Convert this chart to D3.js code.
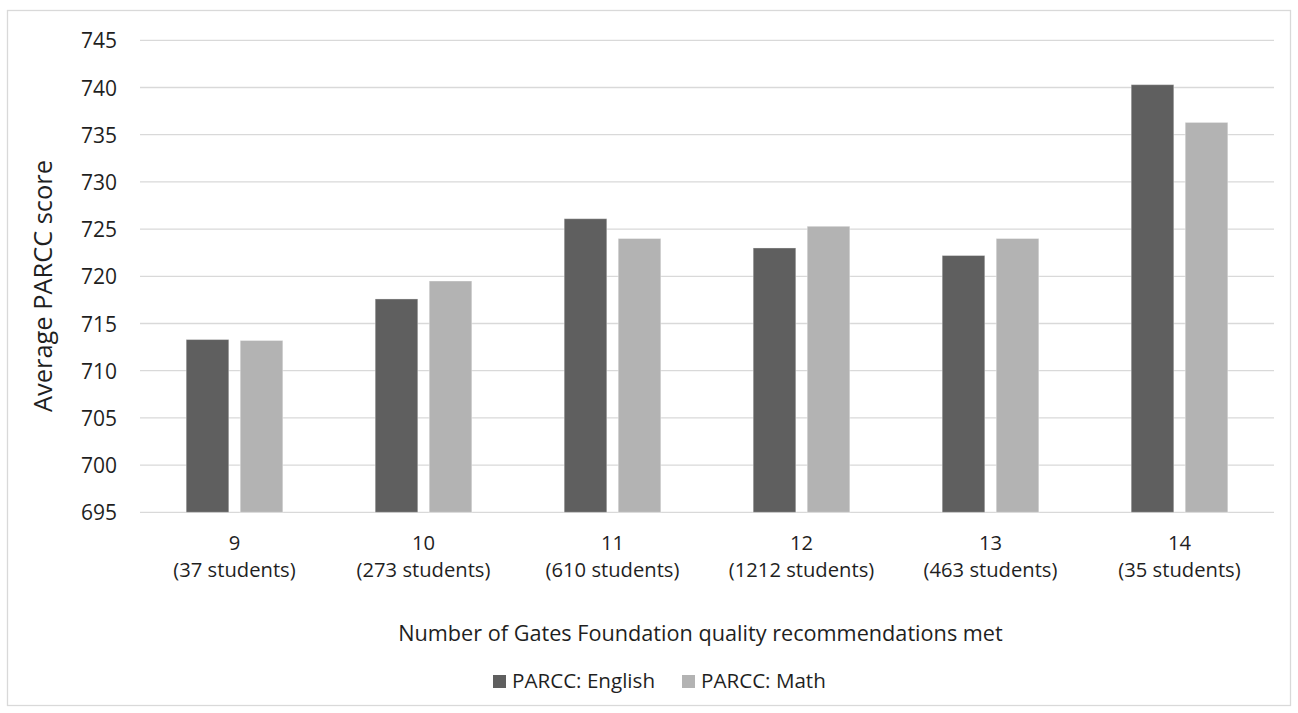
<!DOCTYPE html>
<html>
<head>
<meta charset="utf-8">
<script src="https://cdn.jsdelivr.net/npm/d3@7/dist/d3.min.js"></script>
<style>
  html, body { margin: 0; padding: 0; background: #fff; }
  svg { display: block; }
  text { font-family: "Open Sans", sans-serif; fill: #1f1f1f; }
</style>
</head>
<body>
<svg id="chart" width="1298" height="713"></svg>
<script>
// Recommendation counts met (with number of students in each group)
const categories = ["9", "10", "11", "12", "13", "14"];
const studentCounts = ["(37 students)", "(273 students)", "(610 students)", "(1212 students)", "(463 students)", "(35 students)"];
const seriesNames = ["PARCC: English", "PARCC: Math"];
const englishScores = [713.3, 717.6, 726.1, 723.0, 722.2, 740.3];
const mathScores = [713.2, 719.5, 724.0, 725.3, 724.0, 736.3];
const yTicks = [695, 700, 705, 710, 715, 720, 725, 730, 735, 740, 745];
const seriesColors = ["#5f5f5f", "#b3b3b3"];
const xTitle = "Number of Gates Foundation quality recommendations met";
const yTitle = "Average PARCC score";

const svg = d3.select("#chart");
const plot = { left: 140, right: 1274, top: 40.3, bottom: 512.3 };

// Size a font so that a given string spans the wanted width
function fitSize(str, width) {
  const probe = svg.append("text").attr("font-size", 20).text(str);
  const w = probe.node().getComputedTextLength();
  probe.remove();
  return 20 * width / w;
}
const titleSize = fitSize(xTitle, 605);
const labelSize = fitSize("(610 students)", 134);
const yTitleSize = fitSize(yTitle, 252);

// Outer chart frame
svg.append("rect")
  .attr("x", 7.5).attr("y", 10.5)
  .attr("width", 1283).attr("height", 695)
  .attr("fill", "#fff").attr("stroke", "#d9d9d9").attr("stroke-width", 1.3);

const x0 = d3.scaleBand().domain(categories).range([plot.left, plot.right]).padding(0);
const x1 = d3.scaleBand().domain(seriesNames).range([0, x0.bandwidth()])
  .paddingInner(0.211).paddingOuter(0.855);
const y = d3.scaleLinear().domain([695, 745]).range([plot.bottom, plot.top]);

// Horizontal gridlines
svg.append("g")
  .selectAll("line")
  .data(yTicks)
  .join("line")
  .attr("x1", plot.left).attr("x2", plot.right)
  .attr("y1", d => y(d)).attr("y2", d => y(d))
  .attr("stroke", "#d9d9d9").attr("stroke-width", 1.3);

// Y axis tick labels
const yAxis = d3.axisLeft(y).tickValues(yTicks).tickSize(0).tickPadding(0).tickFormat(d3.format("d"));
const yg = svg.append("g").attr("transform", `translate(${plot.left - 23},0)`).call(yAxis);
yg.select(".domain").remove();
yg.selectAll("text")
  .attr("font-size", labelSize * 1.04)
  .attr("fill", "#1f1f1f")
  .attr("font-family", "'Open Sans', sans-serif")
  .attr("dy", "0.36em");

// Bars
const rows = categories.map((c, i) => ({ cat: c, values: [englishScores[i], mathScores[i]] }));
const groups = svg.append("g").selectAll("g")
  .data(rows)
  .join("g")
  .attr("transform", d => `translate(${x0(d.cat)},0)`);
groups.selectAll("rect")
  .data(d => d.values.map((v, j) => ({ name: seriesNames[j], value: v, idx: j })))
  .join("rect")
  .attr("x", d => x1(d.name))
  .attr("width", x1.bandwidth())
  .attr("y", d => y(d.value))
  .attr("height", d => y(695) - y(d.value))
  .attr("fill", d => seriesColors[d.idx])
  .attr("stroke", "rgba(255,255,255,0.35)")
  .attr("stroke-width", 1);

// Category axis labels (two lines)
const cx0 = d => x0(d) + x0.bandwidth() / 2;
const xlabels = svg.append("g");
xlabels.selectAll("text.num")
  .data(categories)
  .join("text")
  .attr("class", "num")
  .attr("text-anchor", "middle")
  .attr("font-size", labelSize)
  .attr("x", cx0)
  .attr("y", 550)
  .text(d => d);
xlabels.selectAll("text.count")
  .data(categories)
  .join("text")
  .attr("class", "count")
  .attr("text-anchor", "middle")
  .attr("font-size", labelSize)
  .attr("x", cx0)
  .attr("y", 577)
  .text((d, i) => studentCounts[i]);

// Axis titles
svg.append("text")
  .attr("text-anchor", "middle")
  .attr("font-size", titleSize)
  .attr("x", 700.5)
  .attr("y", 641)
  .text(xTitle);

svg.append("text")
  .attr("text-anchor", "middle")
  .attr("font-size", yTitleSize)
  .attr("transform", `translate(52,286) rotate(-90)`)
  .text(yTitle);

// Legend
const legendStart = 493, legendStep = 189;
const legendItems = svg.append("g").selectAll("g")
  .data(seriesNames)
  .join("g")
  .attr("transform", (d, i) => `translate(${legendStart + i * legendStep},0)`);
legendItems.append("rect")
  .attr("width", 13).attr("height", 13)
  .attr("y", 675)
  .attr("fill", (d, i) => seriesColors[i]);
legendItems.append("text")
  .attr("font-size", labelSize * 1.02)
  .attr("x", 19)
  .attr("y", 687.5)
  .text(d => d);
</script>
</body>
</html>
